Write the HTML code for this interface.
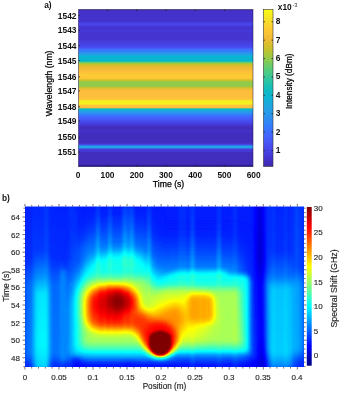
<!DOCTYPE html>
<html><head><meta charset="utf-8"><style>
html,body{margin:0;padding:0;background:#fff;width:342px;height:393px;overflow:hidden}
svg{display:block}
.tk{font-family:"Liberation Sans",Arial,sans-serif;font-size:8.4px;fill:#111;font-weight:bold}
.tb{font-family:"Liberation Sans",Arial,sans-serif;font-size:8px;fill:#222;stroke:#222;stroke-width:0.12px}
.lbb{font-family:"Liberation Sans",Arial,sans-serif;font-size:8.2px;fill:#222;stroke:#222;stroke-width:0.15px}
.lr{font-family:"Liberation Sans",Arial,sans-serif;font-size:8.7px;fill:#000;stroke:#000;stroke-width:0.25px}
.lb{font-family:"Liberation Sans",Arial,sans-serif;font-size:8.4px;fill:#111;font-weight:bold}
</style></head><body>
<svg width="342" height="393" viewBox="0 0 342 393">
<defs>
<linearGradient id="ga" x1="0" y1="0" x2="0" y2="1">
<stop offset="0.0000" stop-color="#3e26a8"/>
<stop offset="0.0064" stop-color="#402bb7"/>
<stop offset="0.0127" stop-color="#4332c9"/>
<stop offset="0.0732" stop-color="#4433cc"/>
<stop offset="0.0847" stop-color="#463ee1"/>
<stop offset="0.0936" stop-color="#4848ec"/>
<stop offset="0.1025" stop-color="#463ee1"/>
<stop offset="0.1115" stop-color="#4434d0"/>
<stop offset="0.1274" stop-color="#4434d0"/>
<stop offset="0.1369" stop-color="#463adc"/>
<stop offset="0.1465" stop-color="#4434d0"/>
<stop offset="0.1879" stop-color="#4434d0"/>
<stop offset="0.2070" stop-color="#463cde"/>
<stop offset="0.2261" stop-color="#4743e7"/>
<stop offset="0.2420" stop-color="#484ef1"/>
<stop offset="0.2535" stop-color="#3f6eff"/>
<stop offset="0.2643" stop-color="#347afd"/>
<stop offset="0.2758" stop-color="#2a92ee"/>
<stop offset="0.2885" stop-color="#20a4e3"/>
<stop offset="0.2981" stop-color="#0ab4d2"/>
<stop offset="0.3280" stop-color="#05b6ce"/>
<stop offset="0.3363" stop-color="#58cc79"/>
<stop offset="0.3439" stop-color="#9fc942"/>
<stop offset="0.3535" stop-color="#d7be28"/>
<stop offset="0.3739" stop-color="#eaba31"/>
<stop offset="0.3885" stop-color="#fabb3d"/>
<stop offset="0.4045" stop-color="#fec437"/>
<stop offset="0.4236" stop-color="#fdcc32"/>
<stop offset="0.4401" stop-color="#fec437"/>
<stop offset="0.4503" stop-color="#c8c129"/>
<stop offset="0.4618" stop-color="#96ca48"/>
<stop offset="0.4873" stop-color="#8dcb4f"/>
<stop offset="0.4987" stop-color="#d0c027"/>
<stop offset="0.5102" stop-color="#f5ba3a"/>
<stop offset="0.5191" stop-color="#fdbd3d"/>
<stop offset="0.5701" stop-color="#fec13a"/>
<stop offset="0.5815" stop-color="#f5ec22"/>
<stop offset="0.6006" stop-color="#f6f020"/>
<stop offset="0.6102" stop-color="#fec835"/>
<stop offset="0.6248" stop-color="#fdbd3d"/>
<stop offset="0.6338" stop-color="#04bbc2"/>
<stop offset="0.6465" stop-color="#20a4e3"/>
<stop offset="0.6592" stop-color="#2a92ee"/>
<stop offset="0.6720" stop-color="#3876fe"/>
<stop offset="0.6924" stop-color="#465ffb"/>
<stop offset="0.7210" stop-color="#4743e7"/>
<stop offset="0.7484" stop-color="#422ebe"/>
<stop offset="0.7611" stop-color="#422ebe"/>
<stop offset="0.7739" stop-color="#4433cc"/>
<stop offset="0.7866" stop-color="#422ebe"/>
<stop offset="0.8503" stop-color="#422ebe"/>
<stop offset="0.8618" stop-color="#484aee"/>
<stop offset="0.8701" stop-color="#20a4e3"/>
<stop offset="0.8790" stop-color="#20a4e3"/>
<stop offset="0.8879" stop-color="#484aee"/>
<stop offset="0.8949" stop-color="#4433cc"/>
<stop offset="0.9013" stop-color="#463cde"/>
<stop offset="0.9108" stop-color="#422ebe"/>
<stop offset="0.9841" stop-color="#412dbb"/>
<stop offset="0.9936" stop-color="#3e26a8"/>
<stop offset="1.0000" stop-color="#3e26a8"/>
</linearGradient>
<linearGradient id="gca" x1="0" y1="0" x2="0" y2="1">
<stop offset="0.0000" stop-color="#f9fb15"/>
<stop offset="0.0625" stop-color="#f5e327"/>
<stop offset="0.1250" stop-color="#feca33"/>
<stop offset="0.1875" stop-color="#f1ba37"/>
<stop offset="0.2500" stop-color="#c8c129"/>
<stop offset="0.3125" stop-color="#94ca4a"/>
<stop offset="0.3750" stop-color="#5ccc76"/>
<stop offset="0.4375" stop-color="#34c79c"/>
<stop offset="0.5000" stop-color="#12beb9"/>
<stop offset="0.5625" stop-color="#0cb3d3"/>
<stop offset="0.6250" stop-color="#21a3e3"/>
<stop offset="0.6875" stop-color="#2c90f0"/>
<stop offset="0.7500" stop-color="#347afd"/>
<stop offset="0.8125" stop-color="#4562fc"/>
<stop offset="0.8750" stop-color="#484cef"/>
<stop offset="0.9375" stop-color="#4536d5"/>
<stop offset="1.0000" stop-color="#3e26a8"/>
</linearGradient>
<linearGradient id="gcb" x1="0" y1="0" x2="0" y2="1">
<stop offset="0.0000" stop-color="#800000"/>
<stop offset="0.1250" stop-color="#ff0000"/>
<stop offset="0.2500" stop-color="#ff8000"/>
<stop offset="0.3750" stop-color="#ffff00"/>
<stop offset="0.5000" stop-color="#80ff80"/>
<stop offset="0.6250" stop-color="#00ffff"/>
<stop offset="0.7500" stop-color="#0080ff"/>
<stop offset="0.8750" stop-color="#0000ff"/>
<stop offset="1.0000" stop-color="#000080"/>
</linearGradient>
<filter id="fjet" x="0" y="0" width="1" height="1" color-interpolation-filters="sRGB">
<feComponentTransfer><feFuncR type="table" tableValues="0 0 0 0 0.5 1 1 1 0.5"/><feFuncG type="table" tableValues="0 0 0.5 1 1 1 0.5 0 0"/><feFuncB type="table" tableValues="0.5 1 1 1 0.5 0 0 0 0"/></feComponentTransfer>
</filter>
<filter id="bl0_8" filterUnits="userSpaceOnUse" x="0" y="180" width="342" height="213" color-interpolation-filters="sRGB"><feGaussianBlur stdDeviation="0.8"/></filter><filter id="bl1_5" filterUnits="userSpaceOnUse" x="0" y="180" width="342" height="213" color-interpolation-filters="sRGB"><feGaussianBlur stdDeviation="1.5"/></filter><filter id="bl2_5" filterUnits="userSpaceOnUse" x="0" y="180" width="342" height="213" color-interpolation-filters="sRGB"><feGaussianBlur stdDeviation="2.5"/></filter><filter id="bl3" filterUnits="userSpaceOnUse" x="0" y="180" width="342" height="213" color-interpolation-filters="sRGB"><feGaussianBlur stdDeviation="3"/></filter><filter id="bl3_5" filterUnits="userSpaceOnUse" x="0" y="180" width="342" height="213" color-interpolation-filters="sRGB"><feGaussianBlur stdDeviation="3.5"/></filter><filter id="bl4" filterUnits="userSpaceOnUse" x="0" y="180" width="342" height="213" color-interpolation-filters="sRGB"><feGaussianBlur stdDeviation="4"/></filter><filter id="bl5" filterUnits="userSpaceOnUse" x="0" y="180" width="342" height="213" color-interpolation-filters="sRGB"><feGaussianBlur stdDeviation="5"/></filter><filter id="bl7" filterUnits="userSpaceOnUse" x="0" y="180" width="342" height="213" color-interpolation-filters="sRGB"><feGaussianBlur stdDeviation="7"/></filter><filter id="bl8" filterUnits="userSpaceOnUse" x="0" y="180" width="342" height="213" color-interpolation-filters="sRGB"><feGaussianBlur stdDeviation="8"/></filter>
<linearGradient id="sg" x1="0" y1="0" x2="0" y2="1"><stop offset="0" stop-color="#fff" stop-opacity="0.01"/><stop offset="0.7" stop-color="#fff" stop-opacity="0.055"/><stop offset="1" stop-color="#fff" stop-opacity="0.02"/></linearGradient><linearGradient id="fl1" x1="0" y1="0" x2="0" y2="1"><stop offset="0.000" stop-color="#292929"/><stop offset="0.300" stop-color="#2e2e2e"/><stop offset="0.450" stop-color="#444444"/><stop offset="0.550" stop-color="#595959"/><stop offset="0.850" stop-color="#5e5e5e"/><stop offset="1.000" stop-color="#545454"/></linearGradient><linearGradient id="fl2" x1="0" y1="0" x2="0" y2="1"><stop offset="0.000" stop-color="#282828"/><stop offset="0.350" stop-color="#2b2b2b"/><stop offset="0.500" stop-color="#3a3a3a"/><stop offset="0.910" stop-color="#3d3d3d"/><stop offset="0.970" stop-color="#2b2b2b"/><stop offset="1.000" stop-color="#292929"/></linearGradient><linearGradient id="fr1" x1="0" y1="0" x2="0" y2="1"><stop offset="0.000" stop-color="#292929"/><stop offset="0.300" stop-color="#2b2b2b"/><stop offset="0.450" stop-color="#3c3c3c"/><stop offset="0.520" stop-color="#515151"/><stop offset="0.900" stop-color="#535353"/><stop offset="0.970" stop-color="#444444"/><stop offset="1.000" stop-color="#383838"/></linearGradient><linearGradient id="fr2" x1="0" y1="0" x2="0" y2="1"><stop offset="0.000" stop-color="#2d2d2d"/><stop offset="0.400" stop-color="#313131"/><stop offset="0.500" stop-color="#464646"/><stop offset="0.880" stop-color="#484848"/><stop offset="0.950" stop-color="#2d2d2d"/><stop offset="1.000" stop-color="#282828"/></linearGradient><linearGradient id="fds" x1="0" y1="0" x2="0" y2="1"><stop offset="0.000" stop-color="#181818"/><stop offset="0.350" stop-color="#141414"/><stop offset="0.500" stop-color="#1e1e1e"/><stop offset="0.800" stop-color="#1e1e1e"/><stop offset="1.000" stop-color="#141414"/></linearGradient><linearGradient id="fdome" x1="0" y1="0" x2="0" y2="1"><stop offset="0.000" stop-color="#282828"/><stop offset="0.138" stop-color="#343434"/><stop offset="0.228" stop-color="#404040"/><stop offset="0.300" stop-color="#484848"/><stop offset="1.000" stop-color="#484848"/></linearGradient><linearGradient id="fdome2" x1="0" y1="0" x2="0" y2="1"><stop offset="0.000" stop-color="#282828"/><stop offset="0.160" stop-color="#343434"/><stop offset="0.260" stop-color="#404040"/><stop offset="0.330" stop-color="#484848"/><stop offset="1.000" stop-color="#484848"/></linearGradient>
<clipPath id="cb"><rect x="25.0" y="206.5" width="279.0" height="160.5"/></clipPath>
</defs>
<!-- plot a -->
<rect x="78.5" y="9.5" width="174.5" height="157" fill="url(#ga)" stroke="rgba(25,20,70,0.55)" stroke-width="0.9"/>
<path d="M78.5 165.9H253" stroke="#1d1478" stroke-width="1.2" opacity="0.8"/>
<path d="M78.5 15.65h1.6M78.5 30.30h1.6M78.5 45.80h1.6M78.5 60.60h1.6M78.5 76.85h1.6M78.5 90.95h1.6M78.5 106.75h1.6M78.5 121.10h1.6M78.5 137.40h1.6M78.5 152.00h1.6M107.45 9.5v1.6M107.45 166.5v-1.6M136.70 9.5v1.6M136.70 166.5v-1.6M165.95 9.5v1.6M165.95 166.5v-1.6M195.20 9.5v1.6M195.20 166.5v-1.6M224.45 9.5v1.6M224.45 166.5v-1.6" stroke="#222" stroke-width="0.8"/>
<rect x="263.5" y="9.5" width="9.5" height="157" fill="url(#gca)" stroke="#333" stroke-width="0.6"/>
<path d="M271.6 150.50h1.4M263.5 150.50h1.4M271.6 132.11h1.4M263.5 132.11h1.4M271.6 113.72h1.4M263.5 113.72h1.4M271.6 95.33h1.4M263.5 95.33h1.4M271.6 76.94h1.4M263.5 76.94h1.4M271.6 58.55h1.4M263.5 58.55h1.4M271.6 40.16h1.4M263.5 40.16h1.4M271.6 21.77h1.4M263.5 21.77h1.4" stroke="#222" stroke-width="0.8"/>
<!-- plot b -->
<g clip-path="url(#cb)">
<g filter="url(#fjet)">
<g filter="url(#bl2_5)"><rect x="0" y="190" width="342" height="200" fill="#272727"/>
<rect x="24" y="200" width="56" height="170" fill="url(#fl2)"/>
<rect x="34" y="200" width="15" height="170" fill="url(#fl1)"/>
<rect x="61" y="270" width="5" height="92" fill="#444444"/>
<rect x="264" y="200" width="40" height="170" fill="url(#fr2)"/>
<rect x="269" y="200" width="24" height="170" fill="url(#fr1)"/>
<path d="M255.8 200 L264.3 200 L266.2 370 L257.6 370 Z" fill="url(#fds)"/>
<rect x="72" y="358" width="184" height="12" fill="#1d1d1d"/>
<ellipse cx="77" cy="358" rx="4" ry="2" fill="#0c0c0c"/>
<ellipse cx="128" cy="362" rx="5" ry="2" fill="#121212"/>
<ellipse cx="185" cy="361" rx="4" ry="2" fill="#141414"/>
<ellipse cx="230" cy="360" rx="5" ry="2" fill="#141414"/></g>
<g filter="url(#bl7)"><path d="M90 215 L150 215 L154 360 L78 360 L80 250 Z" fill="url(#fdome)"/>
<path d="M152 236 L240 236 L250 360 L150 360 Z" fill="url(#fdome2)"/></g>
<g filter="url(#bl5)"><path d="M73 305 Q77 268 99 257 Q120 249 140 255 Q148 262 152 271 Q158 280 164 276 L170 280 L170 355 L73 355 Z" fill="#646464"/></g>
<g filter="url(#bl2_5)"><path d="M162 280 Q168 273 178 271.5 L224 271 L230 275 L246 275 Q249.5 277 249.5 283 L249 353 L162 353 Z" fill="#646464"/></g>
<g filter="url(#bl4)"><path d="M97 278 L146 278 Q153 291 160 291 L170 292 L170 347 L82 347 L80 294 Q84 280 97 278 Z" fill="#8a8a8a"/></g>
<g filter="url(#bl3_5)"><path d="M158 292 Q166 288 175 288 L240 288 L243 346 L158 346 Z" fill="#8a8a8a"/></g>
<g filter="url(#bl8)"><ellipse cx="178" cy="318" rx="34" ry="23" fill="#a1a1a1"/></g>
<g filter="url(#bl5)"><rect x="86.5" y="287" width="51.5" height="43" rx="14" fill="#d6d6d6"/></g>
<g filter="url(#bl5)"><ellipse cx="114" cy="304" rx="20" ry="15" fill="#e9e9e9"/></g>
<g filter="url(#bl3_5)"><ellipse cx="117.5" cy="302" rx="10" ry="8.5" fill="#fcfcfc"/></g>
<g filter="url(#bl3)"><rect x="187" y="294" width="27" height="29" rx="6" fill="#b6b6b6"/></g>
<g filter="url(#bl5)"><path d="M140 320 L179 303 L187 320 L171 346 L150 345 Z" fill="#bbbbbb"/></g>
<g filter="url(#bl4)"><path d="M122 318 L141 309 L167 334 L147 344 Z" fill="#d3d3d3"/></g>
<g filter="url(#bl3)"><ellipse cx="160.3" cy="339" rx="16.5" ry="17.5" fill="#dfdfdf"/></g>
<g filter="url(#bl0_8)"><ellipse cx="160.2" cy="343" rx="11.4" ry="12.6" fill="#ffffff"/>
<ellipse cx="160.2" cy="337.5" rx="11.2" ry="6.2" fill="#ffffff"/></g>
<g filter="url(#bl1_5)"><rect x="32" y="206" width="4" height="162" fill="#fff" opacity="0.012"/>
<rect x="44" y="206" width="5" height="162" fill="#fff" opacity="0.018"/>
<rect x="61" y="260" width="2" height="108" fill="#fff" opacity="0.02"/>
<rect x="69" y="206" width="8" height="162" fill="#fff" opacity="0.015"/>
<rect x="96" y="206" width="4" height="94" fill="#fff" opacity="0.025"/>
<rect x="108" y="206" width="4" height="94" fill="#fff" opacity="0.025"/>
<rect x="122" y="206" width="12" height="84" fill="#fff" opacity="0.03"/>
<rect x="147" y="206" width="4" height="94" fill="#fff" opacity="0.025"/>
<rect x="96" y="206" width="3.5" height="69" fill="url(#sg)"/>
<rect x="108.5" y="206" width="3" height="64" fill="url(#sg)"/>
<rect x="123" y="206" width="4" height="62" fill="url(#sg)"/>
<rect x="130" y="206" width="4" height="62" fill="url(#sg)"/>
<rect x="147.5" y="206" width="3.5" height="74" fill="url(#sg)"/>
<rect x="190.5" y="206" width="4" height="79" fill="url(#sg)"/>
<rect x="217" y="206" width="4" height="79" fill="url(#sg)"/>
<rect x="178" y="206" width="9" height="94" fill="#fff" opacity="0.02"/>
<rect x="190" y="206" width="5" height="162" fill="#fff" opacity="0.025"/>
<rect x="217" y="206" width="4" height="162" fill="#fff" opacity="0.02"/>
<rect x="232" y="206" width="6" height="162" fill="#fff" opacity="0.02"/>
<rect x="272" y="206" width="3" height="162" fill="#fff" opacity="0.02"/>
<rect x="284" y="206" width="3" height="162" fill="#fff" opacity="0.02"/>
<rect x="295" y="206" width="3" height="162" fill="#fff" opacity="0.02"/>
<rect x="96" y="286" width="1.5" height="44" fill="#000" opacity="0.025"/>
<rect x="104" y="284" width="1.5" height="48" fill="#000" opacity="0.03"/>
<rect x="111" y="284" width="1.5" height="48" fill="#000" opacity="0.025"/>
<rect x="124" y="284" width="1.5" height="48" fill="#000" opacity="0.03"/>
<rect x="131" y="286" width="1.5" height="44" fill="#000" opacity="0.025"/>
<rect x="200" y="296" width="1.5" height="32" fill="#000" opacity="0.02"/>
<rect x="206" y="296" width="1.5" height="32" fill="#000" opacity="0.02"/></g>
</g>
</g>
<path d="M24.90 203.90v2.60M24.90 367.00v2.60M31.71 204.90v1.60M31.71 367.00v1.60M38.52 204.90v1.60M38.52 367.00v1.60M45.33 204.90v1.60M45.33 367.00v1.60M52.14 204.90v1.60M52.14 367.00v1.60M58.95 203.90v2.60M58.95 367.00v2.60M65.76 204.90v1.60M65.76 367.00v1.60M72.57 204.90v1.60M72.57 367.00v1.60M79.38 204.90v1.60M79.38 367.00v1.60M86.19 204.90v1.60M86.19 367.00v1.60M93.00 203.90v2.60M93.00 367.00v2.60M99.81 204.90v1.60M99.81 367.00v1.60M106.62 204.90v1.60M106.62 367.00v1.60M113.43 204.90v1.60M113.43 367.00v1.60M120.24 204.90v1.60M120.24 367.00v1.60M127.05 203.90v2.60M127.05 367.00v2.60M133.86 204.90v1.60M133.86 367.00v1.60M140.67 204.90v1.60M140.67 367.00v1.60M147.48 204.90v1.60M147.48 367.00v1.60M154.29 204.90v1.60M154.29 367.00v1.60M161.10 203.90v2.60M161.10 367.00v2.60M167.91 204.90v1.60M167.91 367.00v1.60M174.72 204.90v1.60M174.72 367.00v1.60M181.53 204.90v1.60M181.53 367.00v1.60M188.34 204.90v1.60M188.34 367.00v1.60M195.15 203.90v2.60M195.15 367.00v2.60M201.96 204.90v1.60M201.96 367.00v1.60M208.77 204.90v1.60M208.77 367.00v1.60M215.58 204.90v1.60M215.58 367.00v1.60M222.39 204.90v1.60M222.39 367.00v1.60M229.20 203.90v2.60M229.20 367.00v2.60M236.01 204.90v1.60M236.01 367.00v1.60M242.82 204.90v1.60M242.82 367.00v1.60M249.63 204.90v1.60M249.63 367.00v1.60M256.44 204.90v1.60M256.44 367.00v1.60M263.25 203.90v2.60M263.25 367.00v2.60M270.06 204.90v1.60M270.06 367.00v1.60M276.87 204.90v1.60M276.87 367.00v1.60M283.68 204.90v1.60M283.68 367.00v1.60M290.49 204.90v1.60M290.49 367.00v1.60M297.30 203.90v2.60M297.30 367.00v2.60M23.40 366.60h1.60M304.00 366.60h1.60M23.40 362.20h1.60M304.00 362.20h1.60M22.40 357.80h2.60M304.00 357.80h2.60M23.40 353.40h1.60M304.00 353.40h1.60M23.40 349.00h1.60M304.00 349.00h1.60M23.40 344.60h1.60M304.00 344.60h1.60M22.40 340.20h2.60M304.00 340.20h2.60M23.40 335.80h1.60M304.00 335.80h1.60M23.40 331.40h1.60M304.00 331.40h1.60M23.40 327.00h1.60M304.00 327.00h1.60M22.40 322.60h2.60M304.00 322.60h2.60M23.40 318.20h1.60M304.00 318.20h1.60M23.40 313.80h1.60M304.00 313.80h1.60M23.40 309.40h1.60M304.00 309.40h1.60M22.40 305.00h2.60M304.00 305.00h2.60M23.40 300.60h1.60M304.00 300.60h1.60M23.40 296.20h1.60M304.00 296.20h1.60M23.40 291.80h1.60M304.00 291.80h1.60M22.40 287.40h2.60M304.00 287.40h2.60M23.40 283.00h1.60M304.00 283.00h1.60M23.40 278.60h1.60M304.00 278.60h1.60M23.40 274.20h1.60M304.00 274.20h1.60M22.40 269.80h2.60M304.00 269.80h2.60M23.40 265.40h1.60M304.00 265.40h1.60M23.40 261.00h1.60M304.00 261.00h1.60M23.40 256.60h1.60M304.00 256.60h1.60M22.40 252.20h2.60M304.00 252.20h2.60M23.40 247.80h1.60M304.00 247.80h1.60M23.40 243.40h1.60M304.00 243.40h1.60M23.40 239.00h1.60M304.00 239.00h1.60M22.40 234.60h2.60M304.00 234.60h2.60M23.40 230.20h1.60M304.00 230.20h1.60M23.40 225.80h1.60M304.00 225.80h1.60M23.40 221.40h1.60M304.00 221.40h1.60M22.40 217.00h2.60M304.00 217.00h2.60M23.40 212.60h1.60M304.00 212.60h1.60M23.40 208.20h1.60M304.00 208.20h1.60" stroke="#3a3a3a" stroke-width="0.7" fill="none"/>
<rect x="306.8" y="207" width="4.9" height="158.7" fill="url(#gcb)"/>
<text x="76.5" y="18.65" text-anchor="end" class="tk">1542</text>
<text x="76.5" y="33.30" text-anchor="end" class="tk">1543</text>
<text x="76.5" y="48.80" text-anchor="end" class="tk">1544</text>
<text x="76.5" y="63.60" text-anchor="end" class="tk">1545</text>
<text x="76.5" y="79.85" text-anchor="end" class="tk">1546</text>
<text x="76.5" y="93.95" text-anchor="end" class="tk">1547</text>
<text x="76.5" y="109.75" text-anchor="end" class="tk">1548</text>
<text x="76.5" y="124.10" text-anchor="end" class="tk">1549</text>
<text x="76.5" y="140.40" text-anchor="end" class="tk">1550</text>
<text x="76.5" y="155.00" text-anchor="end" class="tk">1551</text>
<text x="78.2" y="177.6" text-anchor="middle" class="tk">0</text>
<text x="107.5" y="177.6" text-anchor="middle" class="tk">100</text>
<text x="136.7" y="177.6" text-anchor="middle" class="tk">200</text>
<text x="165.9" y="177.6" text-anchor="middle" class="tk">300</text>
<text x="195.2" y="177.6" text-anchor="middle" class="tk">400</text>
<text x="224.4" y="177.6" text-anchor="middle" class="tk">500</text>
<text x="253.7" y="177.6" text-anchor="middle" class="tk">600</text>
<text x="275.8" y="153.0" class="tk">1</text>
<text x="275.8" y="134.6" class="tk">2</text>
<text x="275.8" y="116.2" class="tk">3</text>
<text x="275.8" y="97.8" class="tk">4</text>
<text x="275.8" y="79.4" class="tk">5</text>
<text x="275.8" y="61.0" class="tk">6</text>
<text x="275.8" y="42.7" class="tk">7</text>
<text x="275.8" y="24.3" class="tk">8</text>
<text x="20" y="219.9" text-anchor="end" class="tb">64</text>
<text x="20" y="237.5" text-anchor="end" class="tb">62</text>
<text x="20" y="255.1" text-anchor="end" class="tb">60</text>
<text x="20" y="272.7" text-anchor="end" class="tb">58</text>
<text x="20" y="290.3" text-anchor="end" class="tb">56</text>
<text x="20" y="307.9" text-anchor="end" class="tb">54</text>
<text x="20" y="325.5" text-anchor="end" class="tb">52</text>
<text x="20" y="343.1" text-anchor="end" class="tb">50</text>
<text x="20" y="360.7" text-anchor="end" class="tb">48</text>
<text x="25.0" y="379.9" text-anchor="middle" class="tb">0</text>
<text x="59.0" y="379.9" text-anchor="middle" class="tb">0.05</text>
<text x="93.0" y="379.9" text-anchor="middle" class="tb">0.1</text>
<text x="127.0" y="379.9" text-anchor="middle" class="tb">0.15</text>
<text x="161.0" y="379.9" text-anchor="middle" class="tb">0.2</text>
<text x="195.0" y="379.9" text-anchor="middle" class="tb">0.25</text>
<text x="229.0" y="379.9" text-anchor="middle" class="tb">0.3</text>
<text x="263.0" y="379.9" text-anchor="middle" class="tb">0.35</text>
<text x="297.0" y="379.9" text-anchor="middle" class="tb">0.4</text>
<text x="313.8" y="358.4" class="tb">0</text>
<text x="313.8" y="333.8" class="tb">5</text>
<text x="313.8" y="309.2" class="tb">10</text>
<text x="313.8" y="284.6" class="tb">15</text>
<text x="313.8" y="260.0" class="tb">20</text>
<text x="313.8" y="235.4" class="tb">25</text>
<text x="313.8" y="210.8" class="tb">30</text>
<text x="44.2" y="8.2" class="lb">a)</text>
<text x="2" y="201" class="lb">b)</text>
<text x="168.5" y="187" text-anchor="middle" class="lr">Time (s)</text>
<text x="164.5" y="389.3" text-anchor="middle" class="lbb">Position (m)</text>
<text transform="translate(52,83.4) rotate(-90)" text-anchor="middle" class="lr">Wavelength (nm)</text>
<text transform="translate(9.3,286.4) rotate(-90)" text-anchor="middle" class="lbb" style="font-size:8.5px">Time (s)</text>
<text transform="translate(291.6,81.2) rotate(-90)" text-anchor="middle" class="lr" style="font-size:8.25px">Intensity (dBm)</text>
<text transform="translate(336.7,288.5) rotate(-90)" text-anchor="middle" class="lbb" style="font-size:8.8px;fill:#1a1a1a">Spectral Shift (GHz)</text>
<text x="277.8" y="9.8" class="lb">x10<tspan dx="0.6" dy="-3.2" style="font-size:5.8px;font-weight:normal;fill:#333">-3</tspan></text>
</svg>
</body></html>
